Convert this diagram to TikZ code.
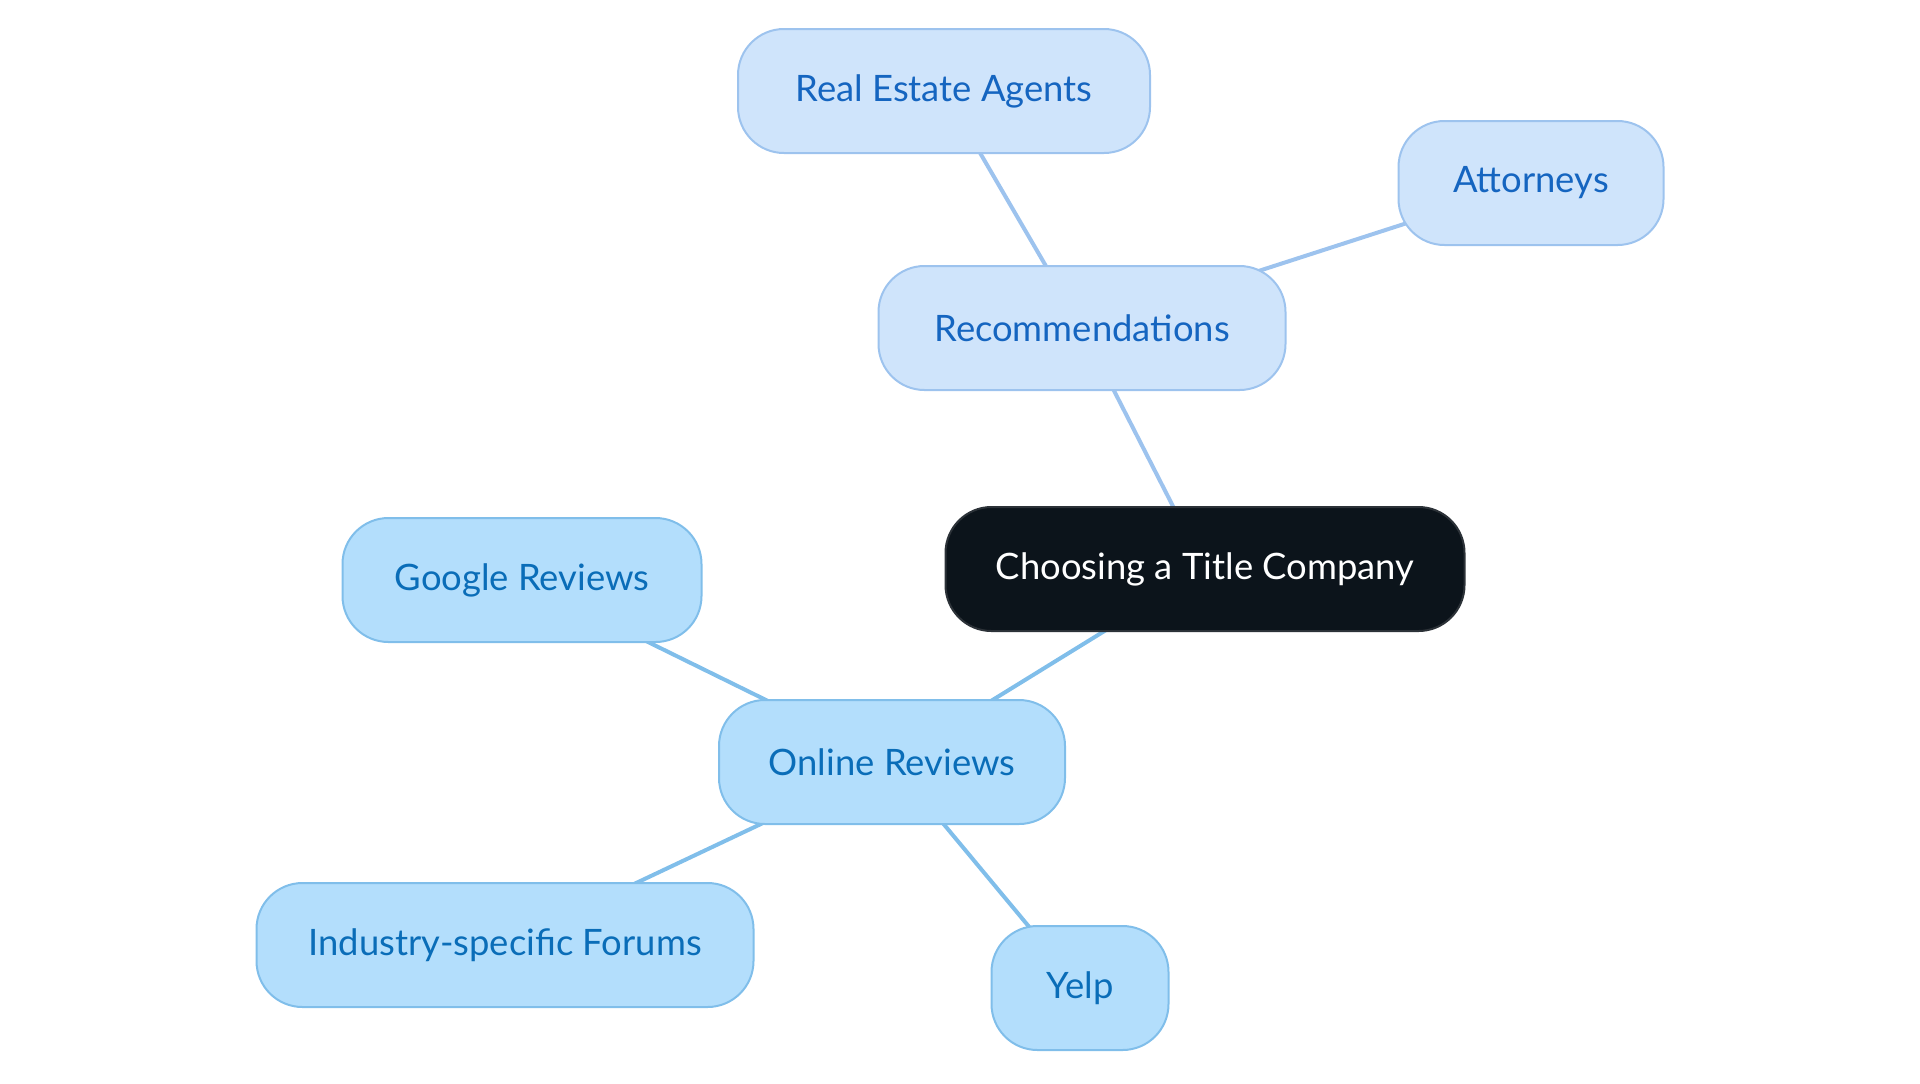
\documentclass[tikz,border=0pt]{standalone}
\usepackage{fontspec}
\setmainfont{Lato}
\usepackage{xcolor}
\definecolor{rootfill}{HTML}{0C141B}
\definecolor{rootline}{HTML}{2C3238}
\definecolor{recfill}{HTML}{CFE4FB}
\definecolor{recline}{HTML}{9DC3EE}
\definecolor{rectext}{HTML}{1565C0}
\definecolor{revfill}{HTML}{B3DEFC}
\definecolor{revline}{HTML}{80BEEA}
\definecolor{revtext}{HTML}{0A6DB8}
\tikzset{
  topic/.style={rectangle, rounded corners=23pt, minimum height=62pt,
    inner sep=0pt, line width=1pt, font=\fontsize{18.2}{21}\selectfont},
  root/.style={topic, fill=rootfill, draw=rootline, text=white},
  rec/.style={topic, fill=recfill, draw=recline, text=rectext},
  rev/.style={topic, fill=revfill, draw=revline, text=revtext},
  recedge/.style={draw=recline, line width=2pt},
  revedge/.style={draw=revline, line width=2pt}
}

\begin{document}
\begin{tikzpicture}[x=0.5pt, y=-0.5pt]
      \useasboundingbox (0, 0) rectangle (1920, 1083);
      % edges first, nodes on top
      \path (1205, 569) coordinate (c-root)
            (1082, 328) coordinate (c-rec)
            (944, 91) coordinate (c-agents)
            (1531, 183) coordinate (c-att)
            (892, 762) coordinate (c-rev)
            (522, 580) coordinate (c-google)
            (505, 945) coordinate (c-forums)
            (1080, 988) coordinate (c-yelp);
      \draw[recedge] (c-root) -- (c-rec);
      \draw[recedge] (c-rec) -- (c-agents);
      \draw[recedge] (c-rec) -- (c-att);
      \draw[revedge] (c-root) -- (c-rev);
      \draw[revedge] (c-rev) -- (c-google);
      \draw[revedge] (c-rev) -- (c-forums);
      \draw[revedge] (c-rev) -- (c-yelp);
      \node[root, minimum width=259.5pt] (root) at (c-root) {Choosing a Title Company};
      \node[rec, minimum width=203.5pt] (rec) at (c-rec) {Recommendations};
      \node[rec, minimum width=206pt] (agents) at (c-agents) {Real Estate Agents};
      \node[rec, minimum width=132.5pt] (att) at (c-att) {Attorneys};
      \node[rev, minimum width=173pt] (rev) at (c-rev) {Online Reviews};
      \node[rev, minimum width=179.5pt] (google) at (c-google) {Google Reviews};
      \node[rev, minimum width=248.5pt] (forums) at (c-forums) {Industry-specific Forums};
      \node[rev, minimum width=88.5pt] (yelp) at (c-yelp) {Yelp};
    \end{tikzpicture}
\end{document}
